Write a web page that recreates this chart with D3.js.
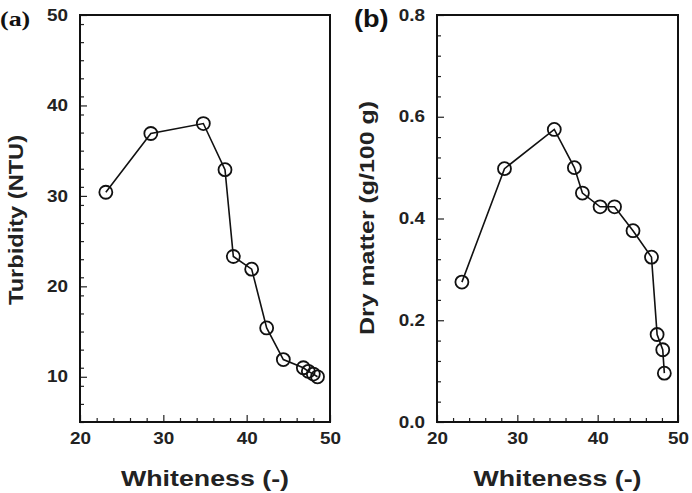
<!DOCTYPE html>
<html>
<head>
<meta charset="utf-8">
<title>Whiteness panels</title>
<script src="https://d3js.org/d3.v7.min.js"></script>
<style>
body { margin: 0; background: #fff; }
svg { display: block; }
</style>
</head>
<body>
<script type="text/javascript">

var width = 692,
    height = 493,
    sans = "'Liberation Sans', Arial, sans-serif",
    stretch = 1.18;

// panel (a)
var whitenessA = [23.1, 28.5, 34.8, 37.4, 38.4, 40.6, 42.4, 44.4, 46.8, 47.4, 48.0, 48.5];
var turbidity = [30.4, 36.9, 38.0, 32.9, 23.3, 21.9, 15.4, 11.9, 11.0, 10.6, 10.3, 10.0];
var turbTicks = [10, 20, 30, 40, 50];

// panel (b)
var whitenessB = [23.1, 28.4, 34.6, 37.1, 38.1, 40.3, 42.1, 44.4, 46.7, 47.4, 48.1, 48.3];
var dryMatter = [0.275, 0.498, 0.575, 0.500, 0.450, 0.423, 0.423, 0.376, 0.324, 0.172, 0.142, 0.096];
var dryTicks = [0.0, 0.2, 0.4, 0.6, 0.8];

var xTicks = [20, 30, 40, 50];

var svg = d3.select("body").append("svg")
    .attr("width", width)
    .attr("height", height);

function panel(o) {
    var x = d3.scaleLinear().domain([20, 50]).range([o.left, o.right]);
    var y = d3.scaleLinear().domain(o.yDomain).range([o.bottom, o.top]);
    var g = svg.append("g");

    // minor ticks
    var xMinor = d3.range(20, 50.01, 2).filter(function(v) { return v % 10 !== 0; });
    var yMinor = d3.range(o.yDomain[0], o.yDomain[1] + 1e-9, o.yMinorStep)
        .filter(function(v) { return !o.yTicks.some(function(t) { return Math.abs(t - v) < 1e-6; }); });

    g.append("g")
        .attr("transform", "translate(0," + o.bottom + ")")
        .call(d3.axisBottom(x).tickValues(xMinor).tickSizeInner(-4).tickSizeOuter(0).tickFormat(""))
        .call(function(a) { a.select(".domain").remove(); });
    g.append("g")
        .attr("transform", "translate(" + o.left + ",0)")
        .call(d3.axisLeft(y).tickValues(yMinor).tickSizeInner(-4).tickSizeOuter(0).tickFormat(""))
        .call(function(a) { a.select(".domain").remove(); });

    // major ticks + labels
    var xa = g.append("g")
        .attr("transform", "translate(0," + o.bottom + ")")
        .call(d3.axisBottom(x).tickValues(xTicks).tickSizeInner(-7).tickSizeOuter(0).tickPadding(11));
    xa.select(".domain").remove();
    xa.selectAll("text")
        .style("font-family", sans).style("font-weight", "bold").style("font-size", "16px")
        .attr("fill", "#222")
        .attr("transform", "scale(" + stretch + ",1)");

    var ya = g.append("g")
        .attr("transform", "translate(" + o.left + ",0)")
        .call(d3.axisLeft(y).tickValues(o.yTicks).tickSizeInner(-7).tickSizeOuter(0).tickPadding(11).tickFormat(o.fmt));
    ya.select(".domain").remove();
    ya.selectAll("text")
        .attr("x", -12 / stretch)
        .style("font-family", sans).style("font-weight", "bold").style("font-size", "16px")
        .attr("fill", "#222")
        .attr("transform", "scale(" + stretch + ",1)");

    g.selectAll(".tick line").attr("stroke", "#222").attr("stroke-width", 1.2);

    // frame
    g.append("rect")
        .attr("x", o.left).attr("y", o.top)
        .attr("width", o.right - o.left).attr("height", o.bottom - o.top)
        .attr("fill", "none").attr("stroke", "#111").attr("stroke-width", 2);

    // series
    var pts = o.xs.map(function(v, i) { return [v, o.ys[i]]; });
    g.append("path")
        .datum(pts)
        .attr("fill", "none").attr("stroke", "#111").attr("stroke-width", 1.6)
        .attr("d", d3.line().x(function(d) { return x(d[0]); }).y(function(d) { return y(d[1]); }));
    g.selectAll("circle.pt")
        .data(pts)
        .enter().append("circle")
        .attr("class", "pt")
        .attr("cx", function(d) { return x(d[0]); })
        .attr("cy", function(d) { return y(d[1]); })
        .attr("r", 6.5)
        .attr("fill", "none").attr("stroke", "#111").attr("stroke-width", 1.8);

    // axis titles
    g.append("text")
        .attr("x", (o.left + o.right) / 2).attr("y", 486)
        .attr("text-anchor", "middle")
        .attr("textLength", 168).attr("lengthAdjust", "spacingAndGlyphs")
        .style("font-family", sans).style("font-weight", "bold").style("font-size", "22px")
        .attr("fill", "#222")
        .text("Whiteness (-)");

    g.append("text")
        .attr("transform", "translate(" + o.ylabX + "," + o.ylabY + ") rotate(-90)")
        .attr("text-anchor", "middle")
        .attr("textLength", o.ylabLen).attr("lengthAdjust", "spacingAndGlyphs")
        .style("font-family", sans).style("font-weight", "bold").style("font-size", "21px")
        .attr("fill", "#222")
        .text(o.ylabel);

    g.append("text")
        .attr("transform", "translate(" + o.tagX + "," + o.tagY + ") scale(" + stretch + ",1)")
        .style("font-family", o.tagFont).style("font-weight", "bold").style("font-size", o.tagSize)
        .attr("fill", "#111")
        .text(o.tag);
}

panel({
    left: 80, right: 330, top: 15, bottom: 422,
    yDomain: [5, 50], yTicks: turbTicks, yMinorStep: 2, fmt: d3.format("d"),
    xs: whitenessA, ys: turbidity,
    ylabel: "Turbidity (NTU)", ylabX: 23, ylabY: 220, ylabLen: 170,
    tag: "(a)", tagX: 0, tagY: 26, tagFont: "'Liberation Serif', 'Times New Roman', serif", tagSize: "22px"
});

panel({
    left: 437, right: 678, top: 15, bottom: 422,
    yDomain: [0, 0.8], yTicks: dryTicks, yMinorStep: 0.04, fmt: d3.format(".1f"),
    xs: whitenessB, ys: dryMatter,
    ylabel: "Dry matter (g/100 g)", ylabX: 374, ylabY: 218, ylabLen: 234,
    tag: "(b)", tagX: 354, tagY: 27, tagFont: sans, tagSize: "23px"
});

</script>
</body>
</html>
